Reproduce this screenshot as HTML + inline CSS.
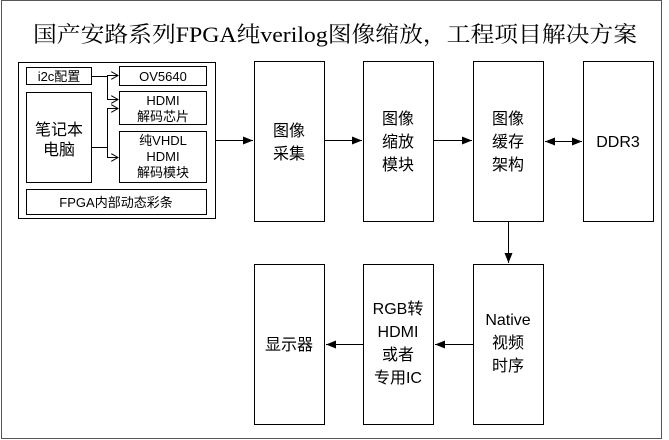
<!DOCTYPE html>
<html><head><meta charset="utf-8"><style>
html,body{margin:0;padding:0;background:#fff}
svg{display:block}
.t{font-family:"Liberation Sans","Noto Sans CJK SC",sans-serif;font-size:16px;fill:#000;text-anchor:middle}
.s{font-family:"Liberation Sans","Noto Sans CJK SC",sans-serif;font-size:13px;fill:#000;text-anchor:middle}
</style></head><body>
<svg width="669" height="440" viewBox="0 0 669 440" xmlns="http://www.w3.org/2000/svg">
<defs>
<marker id="a" markerWidth="10" markerHeight="8" refX="10" refY="4" orient="auto" markerUnits="userSpaceOnUse"><path d="M0,0 L10,4 L0,8z" fill="#000"/></marker>
<marker id="o" markerWidth="8" markerHeight="8" refX="7" refY="4" orient="auto" markerUnits="userSpaceOnUse"><path d="M0,0 L7,4 L0,8" fill="none" stroke="#000" stroke-width="1"/></marker>
</defs>
<rect x="1.5" y="0.5" width="660" height="438" fill="none" stroke="#555" stroke-width="1"/>
<text x="33" y="42" textLength="604" lengthAdjust="spacingAndGlyphs" style="font-family:'Liberation Serif','Noto Serif CJK SC',serif;font-size:22px">国产安路系列FPGA纯verilog图像缩放，工程项目解决方案</text>
<g fill="none" stroke="#000" stroke-width="1">
<rect x="18.5" y="62.5" width="197" height="156"/>
<rect x="26.5" y="67.5" width="65" height="17"/>
<rect x="119.5" y="66.5" width="87" height="19"/>
<rect x="119.5" y="91.5" width="87" height="33"/>
<rect x="119.5" y="131.5" width="87" height="51"/>
<rect x="26.5" y="92.5" width="65" height="90"/>
<rect x="26.5" y="189.5" width="180" height="25"/>
<rect x="254.5" y="61.5" width="70" height="160"/>
<rect x="363.5" y="61.5" width="70" height="160"/>
<rect x="473.5" y="61.5" width="70" height="160"/>
<rect x="583.5" y="61.5" width="70" height="160"/>
<rect x="254.5" y="264.5" width="70" height="160"/>
<rect x="363.5" y="264.5" width="70" height="160"/>
<rect x="473.5" y="264.5" width="70" height="160"/>
<path d="M91.5,76.5 H107.5 V75.5 H118" marker-end="url(#o)"/>
<path d="M107.5,76.5 V99.5 H118" marker-end="url(#o)"/>
<path d="M91.5,147.5 H107.5 V108.5 H118" marker-end="url(#o)"/>
<path d="M107.5,147.5 V157.5 H118" marker-end="url(#o)"/>
<path d="M216,140.5 H253" marker-end="url(#a)"/>
<path d="M325,140.5 H362" marker-end="url(#a)"/>
<path d="M434,140.5 H472" marker-end="url(#a)"/>
<path d="M560,141.5 H582" marker-end="url(#a)"/>
<path d="M566,141.5 H545" marker-end="url(#a)"/>
<path d="M508.5,222 V263" marker-end="url(#a)"/>
<path d="M473,344.5 H435" marker-end="url(#a)"/>
<path d="M363,344.5 H326" marker-end="url(#a)"/>
</g>
<text class="s" x="59" y="81">i2c配置</text>
<text class="s" x="163" y="81">OV5640</text>
<text class="s" x="163" y="105">HDMI</text>
<text class="s" x="163" y="121">解码芯片</text>
<text class="s" x="163" y="145">纯VHDL</text>
<text class="s" x="163" y="161">HDMI</text>
<text class="s" x="163" y="177">解码模块</text>
<text class="t" x="59" y="135">笔记本</text>
<text class="t" x="59" y="155">电脑</text>
<text class="s" x="116" y="207">FPGA内部动态彩条</text>
<text class="t" x="289" y="136">图像</text>
<text class="t" x="289" y="159">采集</text>
<text class="t" x="398" y="124">图像</text>
<text class="t" x="398" y="147">缩放</text>
<text class="t" x="398" y="170">模块</text>
<text class="t" x="508" y="124">图像</text>
<text class="t" x="508" y="147">缓存</text>
<text class="t" x="508" y="170">架构</text>
<text class="t" x="618" y="147">DDR3</text>
<text class="t" x="289" y="350">显示器</text>
<text class="t" x="398" y="314">RGB转</text>
<text class="t" x="398" y="337">HDMI</text>
<text class="t" x="398" y="360">或者</text>
<text class="t" x="398" y="383">专用IC</text>
<text class="t" x="508" y="325">Native</text>
<text class="t" x="508" y="348">视频</text>
<text class="t" x="508" y="371">时序</text>
</svg>
</body></html>
